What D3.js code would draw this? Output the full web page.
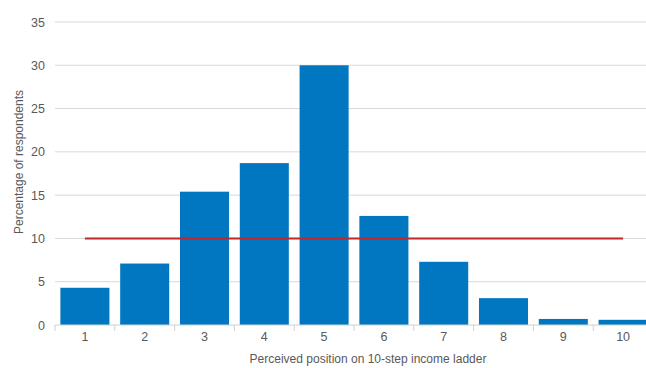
<!DOCTYPE html>
<html><head><meta charset="utf-8">
<script src="https://cdn.jsdelivr.net/npm/d3@7"></script>
<style>
body{margin:0;background:#fff;}
text{font-family:"Liberation Sans",Arial,sans-serif;fill:#595959;}
</style></head><body>
<svg id="c" width="646" height="368"></svg>
<script>
const categories = ["1","2","3","4","5","6","7","8","9","10"];
const values = [4.3, 7.1, 15.4, 18.7, 30.0, 12.6, 7.3, 3.1, 0.7, 0.6];
const referenceValue = [10];
const yTicks = [0,5,10,15,20,25,30,35];

const svg = d3.select("#c");
const x = d3.scaleBand().domain(categories).range([55, 653]).paddingInner(0.18).paddingOuter(0.09);
const y = d3.scaleLinear().domain([0,35]).range([325, 22]);

// gridlines
svg.append("g").selectAll("line").data(yTicks.filter(d=>d>0)).join("line")
  .attr("x1",55).attr("x2",646).attr("y1",d=>y(d)).attr("y2",d=>y(d))
  .attr("stroke","#d9d9d9").attr("stroke-width",1);

// y axis labels
const yAxis = d3.axisLeft(y).tickValues(yTicks).tickSize(0).tickPadding(10);
const gy = svg.append("g").attr("transform","translate(55,0)").call(yAxis);
gy.select(".domain").remove();
gy.selectAll("text").style("font-size","12.5px").style("font-family",'"Liberation Sans",Arial,sans-serif').attr("fill","#595959");

// bars
svg.append("g").selectAll("rect").data(values).join("rect")
  .attr("x",(d,i)=>x(categories[i])).attr("width",x.bandwidth())
  .attr("y",d=>y(d)).attr("height",d=>y(0)-y(d)).attr("fill","#0077c0");

// x axis
const xs = d3.scalePoint().domain(d3.range(11)).range([55,653]);
const gx = svg.append("g").attr("transform","translate(0,325)");
gx.append("line").attr("x1",55).attr("x2",646).attr("y1",0).attr("y2",0).attr("stroke","#d0d0d0").attr("stroke-width",1);
gx.selectAll("line.t").data(d3.range(11)).join("line").attr("class","t")
  .attr("x1",d=>xs(d)).attr("x2",d=>xs(d)).attr("y1",0).attr("y2",6)
  .attr("stroke","#d0d0d0");
gx.selectAll("text").data(categories).join("text")
  .attr("x",d=>x(d)+x.bandwidth()/2).attr("y",16).attr("text-anchor","middle")
  .style("font-size","12.5px").text(d=>d);

// reference line
const line = d3.line().x(d=>d[0]).y(d=>y(d[1]));
svg.append("path").datum([[x("1")+x.bandwidth()/2, referenceValue[0]],[x("10")+x.bandwidth()/2, referenceValue[0]]])
  .attr("d",line).attr("stroke","#c0272d").attr("stroke-width",2).attr("fill","none");

// titles
svg.append("text").attr("x",368).attr("y",363).attr("text-anchor","middle").style("font-size","12px")
  .text("Perceived position on 10-step income ladder");
svg.append("text").attr("transform","translate(23,162) rotate(-90)").attr("text-anchor","middle").style("font-size","12px")
  .text("Percentage of respondents");
</script></body></html>
